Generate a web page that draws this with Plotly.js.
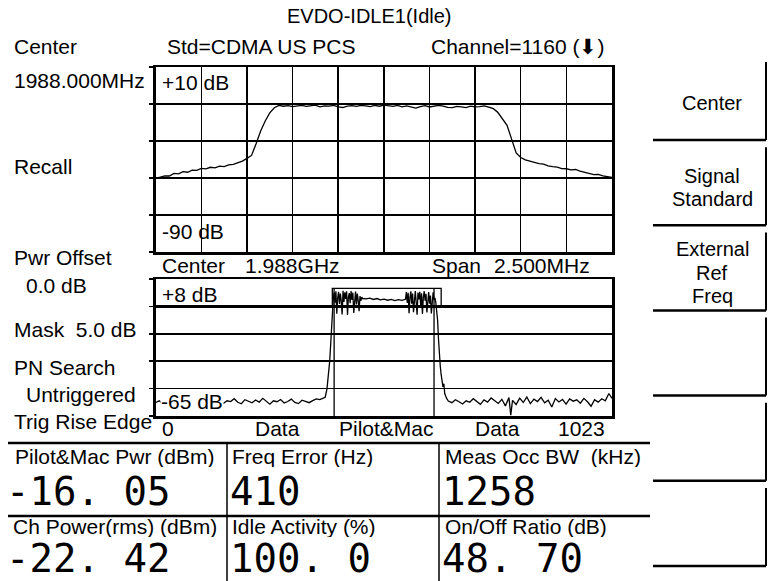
<!DOCTYPE html>
<html>
<head>
<meta charset="utf-8">
<script src="https://cdn.plot.ly/plotly-3.0.1.min.js"></script>
<style>html,body{margin:0;padding:0;background:#fff;}#plot{width:772px;height:581px;}</style>
</head>
<body>
<div id="plot"></div>
<script>
// ---------- DATA ----------
const centerMHz = 1988.0;
const spanMHz = 2.5;
const spectrumDb = [
 -50.2,-49.6,-48.8,-48.9,-47.5,-47.8,-46.6,-46.9,-45.7,-45.9,
 -44.8,-45.1,-44.2,-44.5,-43.6,-43.8,-42.9,-42.6,-41.8,-40.9,
 -39.4,-37.8,-31.5,-24.6,-19.2,-14.8,-12.0,
 -10.8,-11.2,-10.9,-11.4,-11.0,-10.7,-11.3,-11.1,-10.6,-11.5,
 -11.0,-11.2,-10.8,-11.6,-11.9,-11.1,-10.9,-11.3,-10.7,-11.0,
 -11.4,-10.8,-11.2,-10.6,-10.9,-11.3,-10.8,-11.5,-11.0,-11.7,
 -12.2,-11.4,-10.9,-11.6,-11.2,-10.7,-11.1,-11.8,-12.0,-11.3,
 -11.5,-11.9,-11.2,-11.6,-11.4,-11.0,-11.7,
 -12.5,-14.6,-18.3,-21.5,-29.0,-36.4,-38.9,-40.2,-40.9,-41.6,
 -42.2,-42.5,-43.4,-43.8,-44.1,-44.9,-45.0,-45.6,-45.4,-46.3,
 -46.9,-47.6,-48.2,-48.0,-48.9,-49.3,-49.7
];

const leftNoiseChips = [0,8,16,24,32,40,48,56,64,72,80,88,96,104,112,120,128,136,144,152,160,168,176,184,192,200,208,216,224,232,240,248,256,264,272,280,288,296,304,312,320,328,336,344,352,360,368,376];
const leftNoiseDb = [-57.8,-56.9,-58.4,-57.2,-56.6,-58.9,-57.5,-56.8,-58.1,-57.0,-55.9,-57.6,-58.3,-56.7,-57.4,-59.0,-57.1,-56.4,-57.9,-58.2,-56.9,-57.3,-55.8,-57.7,-58.5,-56.3,-57.0,-58.0,-56.5,-57.6,-55.6,-57.2,-58.7,-56.9,-57.4,-56.2,-58.1,-57.3,-56.0,-57.8,-58.4,-56.6,-57.1,-57.9,-56.8,-55.9,-56.3,-55.4];
const riseChips = [380,384,386,388,390,392,394,396,398];
const riseDb = [-55.0,-50.5,-46.0,-42.5,-36.0,-28.0,-18.0,-8.5,-3.0];
const mac1Chips = [400,402,404,406,408,410,412,414,416,418,420,422,424,426,428,430,432,434,436,438,440,442,444,446,448,450,452,454,456,458,460,462,464];
const mac1Db = [0.8,-4.6,1.5,-10.5,-2.1,1.2,-5.3,0.3,-3.8,-10.9,1.7,-4.2,0.9,-2.6,1.4,-11.2,-1.8,0.5,-4.9,1.6,-3.1,0.7,-10.1,-1.5,1.3,-5.6,0.2,-3.4,-9.2,-1.1,-3.7,-1.6,-2.4];
const pilotChips = [472,480,488,496,504,512,520,528,536,544,552,560];
const pilotDb = [-2.6,-2.2,-2.9,-2.4,-3.1,-2.7,-3.3,-2.9,-3.5,-3.0,-3.4,-2.8];
const mac2Chips = [562,564,566,568,570,572,574,576,578,580,582,584,586,588,590,592,594,596,598,600,602,604,606,608,610,612,614,616,618,620,622,624];
const mac2Db = [1.1,-4.8,0.6,-10.3,-2.0,1.4,-5.1,0.2,-9.7,-1.3,1.6,-4.5,-11.0,0.8,-2.9,1.2,-6.0,0.4,-10.6,-1.9,1.5,-3.6,0.1,-9.8,-2.4,1.0,-5.2,-0.8,-10.4,-1.6,0.9,-3.2];
const fallChips = [626,628,630,632,634,636,638,640,642,644,646,648,652,656];
const fallDb = [-2.0,-4.5,-8.0,-14.0,-24.0,-33.0,-38.5,-43.0,-46.5,-49.5,-47.8,-53.0,-55.5,-57.0];
const rightNoiseChips = [664,672,680,688,696,704,712,720,728,736,744,752,760,768,776,784,792,796,800,808,816,824,832,840,848,856,864,872,880,888,896,904,912,920,928,936,944,952,960,968,976,984,992,1000,1008,1016,1023];
const rightNoiseDb = [-57.9,-56.3,-57.4,-58.6,-56.9,-57.7,-55.8,-57.2,-58.8,-56.4,-57.6,-55.4,-57.0,-58.3,-56.1,-59.6,-55.2,-64.5,-56.7,-58.9,-55.5,-57.8,-54.9,-58.4,-56.0,-57.3,-55.1,-58.0,-56.6,-60.2,-55.7,-57.5,-56.2,-58.7,-55.9,-57.1,-56.4,-58.2,-55.6,-57.4,-59.8,-56.3,-57.6,-55.8,-56.9,-53.0,-55.6];

const maskLevelDb = -6.6;
const maskTopDb = 3.0;
const maskStartChip = 396, maskEndChip = 640;
const pilotMacStart = 400, pilotMacEnd = 624;
const chipMax = 1023;

const leftLabels = [["Center",12,46],["1988.000MHz",12,80],["Recall",12,166],["Pwr Offset",12,257],["0.0 dB",24,285],["Mask\u00a0\u00a05.0 dB",12,329],["PN Search",12,367],["Untriggered",24,394],["Trig Rise Edge",12,421]];
const tableLabels = [["Pilot&Mac Pwr (dBm)",13,456],["Freq Error (Hz)",230,456],["Meas Occ BW\u00a0\u00a0(kHz)",443,456],["Ch Power(rms) (dBm)",11,526],["Idle Activity (%)",230,526],["On/Off Ratio (dB)",443,526]];
const tableValues = [["-16. 05",4,491],["410",228,491],["1258",440,491],["-22. 42",4,558],["100. 0",228,558],["48. 70",440,558]];
const softkeys = [["Center"],["Signal","Standard"],["External","Ref","Freq"],[],[],[]];

// ---------- DRAW ----------
const W = 772, H = 581;
const SANS = "Liberation Sans, Arial, sans-serif";
const MONO = "DejaVu Sans Mono, monospace";
const FS = 21;
function T(text, x, y, o) {
  return Object.assign({text: text, x: x / W, y: 1 - y / H, xref: 'paper', yref: 'paper', showarrow: false,
    xanchor: 'left', yanchor: 'middle', font: {family: SANS, size: FS, color: '#000'}}, o || {});
}
const freqs = spectrumDb.map((v, i) => centerMHz - spanMHz / 2 + i * spanMHz / (spectrumDb.length - 1));
const chips = [].concat(leftNoiseChips, riseChips, mac1Chips, pilotChips, mac2Chips, fallChips, rightNoiseChips);
const chipDb = [].concat(leftNoiseDb, riseDb, mac1Db, pilotDb, mac2Db, fallDb, rightNoiseDb);

const line = {color: '#000', width: 1.3};
const traces = [
  {x: freqs, y: spectrumDb, type: 'scatter', mode: 'lines', line: line, xaxis: 'x', yaxis: 'y', hoverinfo: 'skip'},
  {x: [0, chipMax], y: [maskLevelDb, maskLevelDb], mode: 'lines', line: {color: '#000', width: 3}, xaxis: 'x2', yaxis: 'y2'},
  {x: [maskStartChip, maskStartChip, maskEndChip, maskEndChip], y: [maskLevelDb, maskTopDb, maskTopDb, maskLevelDb], mode: 'lines', line: {color: '#000', width: 1.3}, xaxis: 'x2', yaxis: 'y2'},
  {x: [pilotMacStart, pilotMacStart], y: [-65, maskTopDb], mode: 'lines', line: {color: '#000', width: 1.3}, xaxis: 'x2', yaxis: 'y2'},
  {x: [pilotMacEnd, pilotMacEnd], y: [-65, maskTopDb], mode: 'lines', line: {color: '#000', width: 1.3}, xaxis: 'x2', yaxis: 'y2'},
  {x: chips, y: chipDb, type: 'scatter', mode: 'lines', line: line, xaxis: 'x2', yaxis: 'y2'}
];

const xDom = [155.7 / W, 612 / W];
const axCommon = {showline: true, linecolor: '#000', linewidth: 2.5, mirror: true, zeroline: false, showticklabels: false, fixedrange: true};
const layout = {
  width: W, height: H, margin: {l: 0, r: 0, t: 0, b: 0}, paper_bgcolor: '#fff', plot_bgcolor: '#fff', showlegend: false,
  xaxis: Object.assign({}, axCommon, {domain: xDom, range: [centerMHz - spanMHz / 2, centerMHz + spanMHz / 2], tick0: centerMHz - spanMHz / 2, dtick: spanMHz / 10, showgrid: true, gridcolor: '#000', gridwidth: 1.5, ticks: '', anchor: 'y'}),
  yaxis: Object.assign({}, axCommon, {domain: [1 - 252 / H, 1 - 67 / H], range: [-90, 10], tick0: -90, dtick: 20, showgrid: true, gridcolor: '#000', gridwidth: 1.5, ticks: 'outside', ticklen: 4, tickwidth: 1.5, tickcolor: '#000', anchor: 'x'}),
  xaxis2: Object.assign({}, axCommon, {domain: xDom, range: [0, chipMax], showgrid: false, ticks: '', anchor: 'y2'}),
  yaxis2: Object.assign({}, axCommon, {domain: [1 - 416 / H, 1 - 279 / H], range: [-65, 8], tick0: -65, dtick: 14.6, showgrid: true, gridcolor: '#000', gridwidth: 1.5, ticks: 'outside', ticklen: 4, tickwidth: 1.5, tickcolor: '#000', anchor: 'x2'}),
  annotations: [], shapes: []
};
const A = layout.annotations, S = layout.shapes;
A.push(T("EVDO-IDLE1(Idle)", 369, 16, {xanchor: 'center', font: {family: SANS, size: 20, color: '#000'}}));
A.push(T("Std=CDMA US PCS", 165, 46));
A.push(T("Channel=1160 (\u2B07)", 429, 46));
leftLabels.forEach(l => A.push(T(l[0], l[1], l[2])));
A.push(T("+10 dB", 160, 83));
A.push(T("-90 dB", 160, 232));
A.push(T("Center", 160, 265));
A.push(T("1.988GHz", 243, 265));
A.push(T("Span", 430, 265));
A.push(T("2.500MHz", 492, 265));
A.push(T("+8 dB", 160, 294));
A.push(T("-65 dB", 160, 401, {bgcolor: '#fff', borderpad: 0}));
A.push(T("0", 160, 428));
A.push(T("Data", 277, 428, {xanchor: 'center'}));
A.push(T("Pilot&Mac", 386, 428, {xanchor: 'center'}));
A.push(T("Data", 498, 428, {xanchor: 'center'}));
A.push(T("1023", 581, 428, {xanchor: 'center'}));
tableLabels.forEach(l => A.push(T(l[0], l[1], l[2], {height: 22})));
tableValues.forEach(l => A.push(T(l[0], l[1], l[2], {height: 40, font: {family: MONO, size: 39, color: '#000'}})));

function L(x0, y0, x1, y1, w) {
  S.push({type: 'line', xref: 'paper', yref: 'paper', x0: x0 / W, x1: x1 / W, y0: 1 - y0 / H, y1: 1 - y1 / H, line: {color: '#000', width: w || 2}});
}
L(8, 443, 650, 443, 2.5);
L(8, 516, 650, 516, 2.5);
L(227, 443, 227, 581, 1.5);
L(439, 443, 439, 581, 1.5);
// softkey frames
const keyTop = 62, keyPitch = 85.2, keyH = 78, keyLine = 23.4;
softkeys.forEach((k, i) => {
  const top = keyTop + i * keyPitch, bot = top + keyH;
  L(766, top, 766, bot, 2);
  L(653, bot, 766, bot, 2.5);
  const mid = (top + bot) / 2;
  k.forEach((t, j) => A.push(T(t, 712, mid - (k.length - 1) * keyLine / 2 + j * keyLine + 1.5, {xanchor: 'center', font: {family: SANS, size: 20, color: '#000'}})));
});

Plotly.newPlot('plot', traces, layout, {staticPlot: true, displayModeBar: false});
</script>
</body>
</html>
